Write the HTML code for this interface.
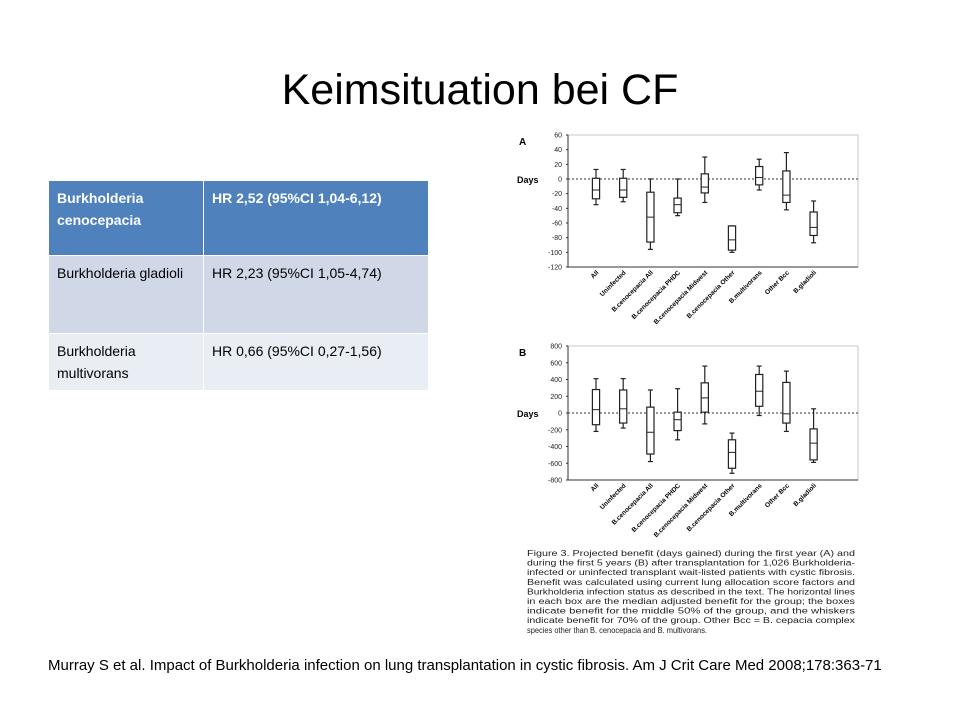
<!DOCTYPE html>
<html><head><meta charset="utf-8"><style>
body{margin:0;background:#fff;font-family:"Liberation Sans",sans-serif}
#slide{position:relative;width:960px;height:720px;overflow:hidden}
#title{position:absolute;left:0;width:960px;top:66px;text-align:center;font-size:43px;color:#000}
table{position:absolute;left:48px;top:180px;border-collapse:collapse;font-size:14px;line-height:22px}
td{vertical-align:top;padding:6px 8px;border:1px solid #fff}
#cite{position:absolute;left:48px;top:654px;width:860px;font-size:15px;line-height:23px}
</style></head><body>
<div id="slide">
<div id="title">Keimsituation bei CF</div>
<table>
<tr style="background:#4f81bd;color:#fff;font-weight:bold;height:75px"><td style="width:138px">Burkholderia cenocepacia</td><td style="width:208px">HR 2,52 (95%CI 1,04-6,12)</td></tr>
<tr style="background:#d0d8e8;height:78px"><td>Burkholderia gladioli</td><td>HR 2,23 (95%CI 1,05-4,74)</td></tr>
<tr style="background:#e9edf4;height:54px"><td>Burkholderia multivorans</td><td>HR 0,66 (95%CI 0,27-1,56)</td></tr>
</table>
<svg id="fig" width="960" height="720" style="position:absolute;left:0;top:0"></svg>
<div id="cite">Murray S et al. Impact of Burkholderia infection on lung transplantation in cystic fibrosis. Am J Crit Care Med 2008;178:363-71</div>
</div>
<script>
const categories=["All","Uninfected","B.cenocepacia All","B.cenocepacia PHDC","B.cenocepacia Midwest","B.cenocepacia Other","B.multivorans","Other Bcc","B.gladioli"];
const aLow=[-35,-31,-96,-50,-32,-100,-15,-42,-87];
const aQ1=[-27,-25,-86,-46,-19,-97,-8,-32,-77];
const aMed=[-15,-15,-52,-35,-11,-83,2,-22,-66];
const aQ3=[1,1,-18,-26,7,-64,17,11,-45];
const aHigh=[13,13,0,0,30,-64,27,36,-30];
const aTicks=[60,40,20,0,-20,-40,-60,-80,-100,-120];
const bLow=[-220,-180,-580,-320,-130,-720,-30,-220,-590];
const bQ1=[-140,-120,-490,-210,10,-660,80,-120,-560];
const bMed=[40,50,-230,-80,180,-470,260,-10,-360];
const bQ3=[280,275,70,10,360,-320,460,365,-190];
const bHigh=[410,410,275,290,560,-240,560,500,50];
const bTicks=[800,600,400,200,0,-200,-400,-600,-800];
const captionLines=["Figure 3.  Projected benefit (days gained) during the first year (A) and","during the first 5 years (B) after transplantation for 1,026 Burkholderia-","infected or uninfected transplant wait-listed patients with cystic fibrosis.","Benefit was calculated using current lung allocation score factors and","Burkholderia infection status as described in the text. The horizontal lines","in each box are the median adjusted benefit for the group; the boxes","indicate benefit for the middle 50% of the group, and the whiskers","indicate benefit for 70% of the group. Other Bcc = B. cepacia complex","species other than B. cenocepacia and B. multivorans."];
const NS="http://www.w3.org/2000/svg";
const svg=document.getElementById('fig');
function mk(t,a,p){const e=document.createElementNS(NS,t);for(const k in a)e.setAttribute(k,a[k]);(p||svg).appendChild(e);return e;}
function panel(letter,top,bottom,ymax,ymin,ticks,lo,q1,md,q3,hi){
  const g=mk('g',{});
  
  
  const L=568,R=858;
  const y=v=>top+(ymax-v)/(ymax-ymin)*(bottom-top);
  const x=i=>L+28+i*27.2;
  mk('rect',{x:L,y:top,width:R-L,height:bottom-top,fill:'none',stroke:'#bbb','stroke-width':0.8},g);
  mk('line',{x1:L,x2:L,y1:top,y2:bottom,stroke:'#333','stroke-width':1},g);
  mk('line',{x1:L,x2:R,y1:bottom,y2:bottom,stroke:'#333','stroke-width':1},g);
  mk('line',{x1:L,x2:R,y1:y(0),y2:y(0),stroke:'#333','stroke-width':1,'stroke-dasharray':'2,2'},g);
  ticks.forEach(t=>{
    const tl=mk('text',{x:L-6,y:y(t)+2.5,'font-size':7,'text-anchor':'end',fill:'#222'},g);tl.textContent=t;
    
    
    mk('line',{x1:L-2,x2:L,y1:y(t),y2:y(t),stroke:'#333'},g);
  });
  const lt=mk('text',{x:519,y:top+10,'font-size':10,'font-weight':'bold'},g);lt.textContent=letter;
  const dl=mk('text',{x:517,y:y(0)+4,'font-size':9,'font-weight':'bold'},g);dl.textContent='Days';
  
  
  categories.forEach((c,i)=>{
    const cx=x(i),w=3.6;
    const bx=mk('g',{},g);
    
    
    mk('line',{x1:cx,x2:cx,y1:y(hi[i]),y2:y(lo[i]),stroke:'#222','stroke-width':1.2},bx);
    mk('line',{x1:cx-2.5,x2:cx+2.5,y1:y(hi[i]),y2:y(hi[i]),stroke:'#222','stroke-width':1.2},bx);
    mk('line',{x1:cx-2.5,x2:cx+2.5,y1:y(lo[i]),y2:y(lo[i]),stroke:'#222','stroke-width':1.2},bx);
    mk('rect',{x:cx-w,y:y(q3[i]),width:2*w,height:y(q1[i])-y(q3[i]),fill:'#fff',stroke:'#222','stroke-width':1.2},bx);
    mk('line',{x1:cx-w,x2:cx+w,y1:y(md[i]),y2:y(md[i]),stroke:'#222','stroke-width':1},bx);
    const tx=mk('text',{x:cx+3,y:bottom+6,'font-size':6.5,'font-weight':'bold','text-anchor':'end',transform:`rotate(-45 ${cx+3} ${bottom+6})`},g);
    tx.textContent=c;
    
    
  });
}
panel('A',135,267,60,-120,aTicks,aLow,aQ1,aMed,aQ3,aHigh);
panel('B',346,480,800,-800,bTicks,bLow,bQ1,bMed,bQ3,bHigh);
const cap=mk('g',{});


captionLines.forEach((l,i)=>{const t=mk('text',{x:527,y:556+i*9.6,'font-size':8,fill:'#222',textLength:i==8?180:328,lengthAdjust:'spacingAndGlyphs'},cap);t.textContent=l;});
</script>
</body></html>
